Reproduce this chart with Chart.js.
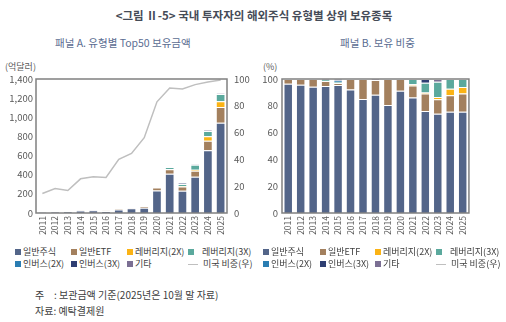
<!DOCTYPE html>
<html>
<head>
<meta charset="utf-8">
<script src="https://cdn.jsdelivr.net/npm/chart.js@4.4.1/dist/chart.umd.min.js"></script>
<style>
body{margin:0;width:506px;height:322px;background:#fff;position:relative;overflow:hidden;font-family:"Noto Sans CJK KR",sans-serif}
.abs{position:absolute;white-space:nowrap}
#title{left:0;top:6px;width:508px;text-align:center;font-size:11.5px;font-weight:bold;color:#454b57;line-height:18px}
.sub{top:35px;font-size:10.5px;color:#5b6d92;line-height:16px}
.unit{top:61px;font-size:9px;color:#595959;line-height:12px}
.leg{font-size:9px;color:#404040;line-height:12px}
.leg .item{position:absolute;display:flex;align-items:center}
.leg .sw{width:6px;height:6px;margin-right:2px}
.leg .ln{width:10px;height:0;border-top:1.5px solid #bfbfbf;margin-right:5px}
.note{left:35px;font-size:10px;color:#404040;line-height:14px}
canvas{position:absolute}
</style>
</head>
<body>
<div class="abs" id="title">&lt;그림 Ⅱ-5&gt; 국내 투자자의 해외주식 유형별 상위 보유종목</div>
<div class="abs sub" style="left:55px">패널 A. 유형별 Top50 보유금액</div>
<div class="abs sub" style="left:340px">패널 B. 보유 비중</div>
<div class="abs unit" style="left:5px">(억달러)</div>
<div class="abs unit" style="left:263px">(%)</div>
<canvas id="chart_1" width="257" height="185" style="left:0;top:60px"></canvas>
<canvas id="chart_2" width="226" height="185" style="left:250px;top:60px"></canvas>
<div class="abs leg" id="legend_1" style="left:0;top:246px;width:250px;height:26px"></div>
<div class="abs leg" id="legend_2" style="left:248px;top:246px;width:258px;height:26px"></div>
<div class="abs note" style="top:288px"><span style="display:inline-block;width:19px">주</span>: 보관금액 기준(2025년은 10월 말 자료)</div>
<div class="abs note" style="top:304px">자료: 예탁결제원</div>
<script>
const years = ["2011","2012","2013","2014","2015","2016","2017","2018","2019","2020","2021","2022","2023","2024","2025"]

// panel A: holdings, 억달러
const amt_stock = [7, 10, 18, 27, 28, 21, 37, 50, 56, 234, 411, 233, 380, 656, 942]
const amt_etf   = [1, 1, 1, 1, 1, 3, 8, 2, 14, 32, 45, 45, 62, 100, 166]
const amt_lev2  = [0, 0, 0, 0, 0, 0, 0, 0, 0, 0, 4, 4, 10, 47, 59]
const amt_lev3  = [0, 0, 0, 1, 0, 0, 0, 0, 0, 0, 20, 22, 52, 55, 75]
const amt_inv2  = [0, 0, 0, 0, 1, 0, 0, 0, 0, 0, 0, 0, 0, 0, 0]
const amt_inv3  = [0, 0, 0, 0, 1, 0, 0, 0, 0, 0, 0, 8, 0, 0, 0]
const amt_other = [0, 0, 0, 0, 0, 0, 0, 1, 0, 1, 0, 0, 5, 6, 8]
const us_share  = [14.5, 18.3, 16.8, 25.5, 27, 26.5, 40, 44.5, 56.2, 83, 93.2, 92.5, 95.8, 97.7, 99.2]

// panel B: share, %
const pct_stock = [96.5, 95.8, 94.2, 94.8, 95.5, 92.2, 85.1, 88.2, 80.6, 91.3, 86.2, 76.2, 74.1, 75.6, 75.6]
const pct_etf   = [3.5, 4.2, 5.8, 3.7, 1.5, 7.8, 14.9, 11.1, 19.4, 8.7, 9.0, 13.0, 10.8, 12.2, 13.6]
const pct_lev2  = [0, 0, 0, 0, 0, 0, 0, 0, 0, 0, 0.8, 0.8, 1.7, 4.9, 4.9]
const pct_lev3  = [0, 0, 0, 1.0, 0.8, 0, 0, 0, 0, 0, 4.0, 7.2, 11.4, 7.3, 5.9]
const pct_inv2  = [0, 0, 0, 0, 1.0, 0, 0, 0, 0, 0, 0, 0, 0, 0, 0]
const pct_inv3  = [0, 0, 0, 0, 1.2, 0, 0, 0, 0, 0, 0, 2.8, 0, 0, 0]
const pct_other = [0, 0, 0, 0.5, 0, 0, 0, 0.7, 0, 0, 0, 0, 2.0, 0, 0]

const names = ["일반주식", "일반ETF", "레버리지(2X)", "레버리지(3X)", "인버스(2X)", "인버스(3X)", "기타"]
const colors = ["#536589", "#a3805e", "#fbb315", "#5ba99d", "#2a7db2", "#2e3e72", "#7b6f93"]
const line_name = "미국 비중(우)"

Chart.defaults.font.family = '"Noto Sans CJK KR", sans-serif'
Chart.defaults.color = "#595959"
Chart.defaults.animation = false

// grey box around the plot area
const frame = {
    id: "frame",
    afterDraw(chart){
        const a = chart.chartArea
        const c = chart.ctx
        c.save()
        c.strokeStyle = "#808080"
        c.lineWidth = 1.5
        c.strokeRect(a.left, a.top, a.right - a.left, a.bottom - a.top)
        c.restore()
    }
}

function bar_sets(series){
    return series.map((s, i) => ({
        type: "bar",
        label: names[i],
        data: s,
        backgroundColor: colors[i],
        borderColor: "rgba(255,255,255,0.5)",
        borderWidth: 1,
        barPercentage: 0.76,
        categoryPercentage: 1,
        order: 1
    }))
}

const x_axis = {
    stacked: true,
    grid: {display: false, drawTicks: false},
    border: {display: false},
    ticks: {autoSkip: false, maxRotation: 90, minRotation: 90, padding: 3, font: {size: 8.5}},
    afterFit: s => { s.height = 32 }
}

const data_1 = {
    labels: years,
    datasets: [
        {
            type: "line",
            label: line_name,
            data: us_share,
            yAxisID: "y1",
            borderColor: "#bfbfbf",
            borderWidth: 1.5,
            pointRadius: 0,
            tension: 0,
            order: 0
        },
        ...bar_sets([amt_stock, amt_etf, amt_lev2, amt_lev3, amt_inv2, amt_inv3, amt_other])
    ]
}
const config_1 = {
    type: "bar",
    data: data_1,
    options: {
        responsive: false,
        layout: {padding: {top: 19, left: 0, right: 0, bottom: 0}},
        plugins: {legend: {display: false}, tooltip: {enabled: false}},
        scales: {
            x: x_axis,
            y: {
                stacked: true,
                min: 0, max: 1400,
                grid: {display: false, drawTicks: false},
                border: {display: false},
                ticks: {stepSize: 200, padding: 3, font: {size: 9.5}},
                afterFit: s => { s.width = 36 }
            },
            y1: {
                position: "right",
                min: 0, max: 100,
                grid: {display: false, drawTicks: false},
                border: {display: false},
                ticks: {stepSize: 10, padding: 7, font: {size: 9.5}},
                afterFit: s => { s.width = 30 }
            }
        }
    },
    plugins: [frame]
}
const chart_1 = new Chart(document.getElementById("chart_1").getContext("2d"), config_1)

const data_2 = {
    labels: years,
    datasets: bar_sets([pct_stock, pct_etf, pct_lev2, pct_lev3, pct_inv2, pct_inv3, pct_other])
}
const config_2 = {
    type: "bar",
    data: data_2,
    options: {
        responsive: false,
        layout: {padding: {top: 19, left: 0, right: 3, bottom: 0}},
        plugins: {legend: {display: false}, tooltip: {enabled: false}},
        scales: {
            x: x_axis,
            y: {
                stacked: true,
                min: 0, max: 100,
                grid: {display: false, drawTicks: false},
                border: {display: false},
                ticks: {stepSize: 10, padding: 4, font: {size: 9.5}},
                afterFit: s => { s.width = 32 }
            }
        }
    },
    plugins: [frame]
}
const chart_2 = new Chart(document.getElementById("chart_2").getContext("2d"), config_2)

// legend: 4 columns x 2 rows, line entry last
function add_legend(box_id, cols){
    const box = document.getElementById(box_id)
    const entries = names.map((n, i) => ({text: n, color: colors[i]}))
    entries.push({text: line_name, line: true})
    entries.forEach((e, i) => {
        const item = document.createElement("div")
        item.className = "item"
        item.style.left = cols[i % 4] + "px"
        item.style.top = (i < 4 ? 0 : 12) + "px"
        const mark = document.createElement("span")
        if(e.line){
            mark.className = "ln"
        }
        else{
            mark.className = "sw"
            mark.style.background = e.color
            if(i == 3) mark.style.marginRight = "8px"
        }
        item.appendChild(mark)
        item.appendChild(document.createTextNode(e.text))
        box.appendChild(item)
    })
}
add_legend("legend_1", [15, 71, 127, 188])
add_legend("legend_2", [15, 72, 127, 188])
</script>
</body>
</html>
